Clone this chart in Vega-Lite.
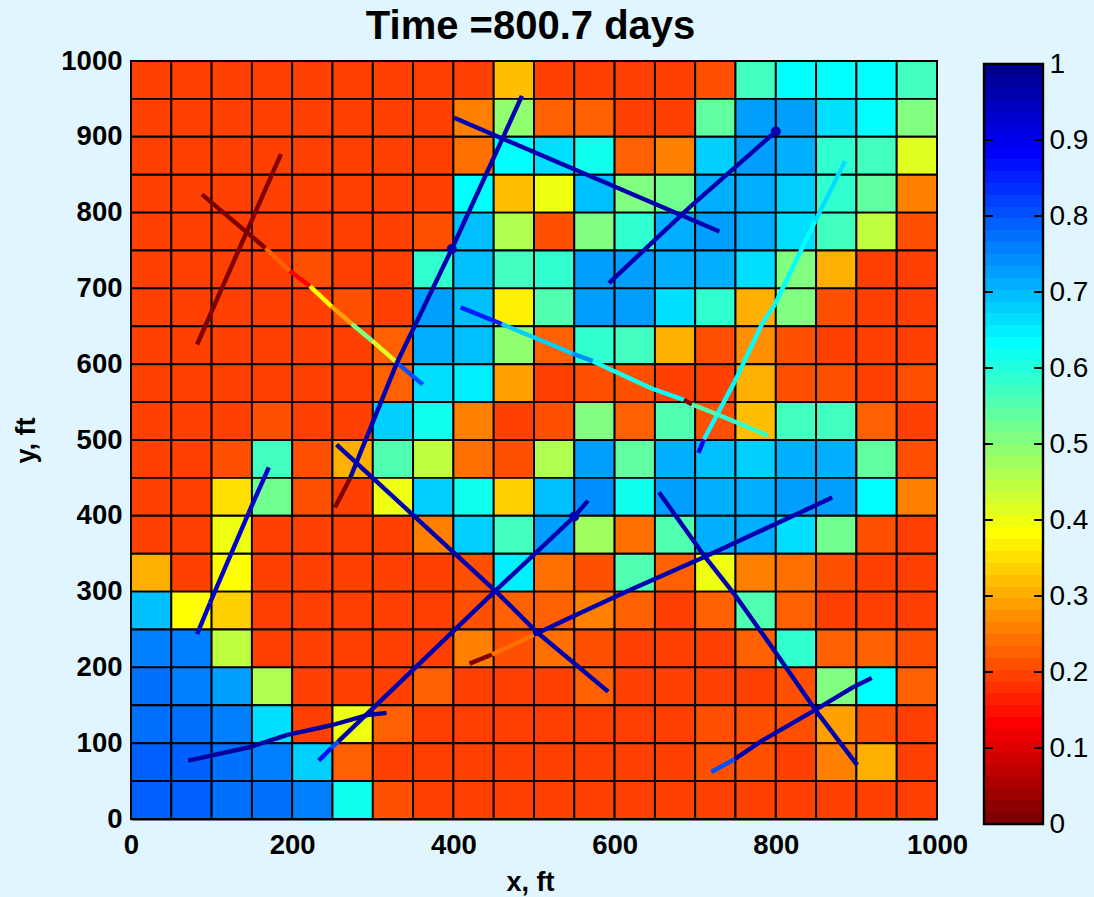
{"$schema":"https://vega.github.io/schema/vega-lite/v6.json","background":"#e0f5fd","padding":{"left":11,"top":7,"right":7,"bottom":2},
"config":{"font":"Liberation Sans","view":{"stroke":"black","strokeWidth":2},"concat":{"spacing":13}},
"title":{"text":"Time =800.7 days","font":"Liberation Sans","fontWeight":"bold","fontSize":40,"color":"black","anchor":"start","dx":354,"offset":-1},
"hconcat":[
{"width":806,"height":758,
"layer":[
{"data":{"name":"cells"},"mark":{"type":"rect","stroke":"black","strokeWidth":1.9},
"encoding":{"x":{"field":"x","type":"quantitative","scale":{"domain":[0,1000],"nice":false},"axis":{"values":[0,200,400,600,800,1000],"format":"d","grid":false,"ticks":false,"title":"x, ft","titleFontSize":27,"titleFontWeight":"bold","titleColor":"black","titleX":399,"labelFontSize":27.5,"labelFontWeight":"bold","labelColor":"black","labelPadding":12,"titlePadding":11,"domainColor":"black","domainWidth":2,"labelFlush":false,"labelOverlap":false}},"x2":{"field":"x2"},
"y":{"field":"y","type":"quantitative","scale":{"domain":[0,1000],"nice":false},"axis":{"values":[0,100,200,300,400,500,600,700,800,900,1000],"format":"d","grid":false,"ticks":false,"title":"y, ft","titleFontSize":27,"titleFontWeight":"bold","titleColor":"black","labelFontSize":27.5,"labelFontWeight":"bold","labelColor":"black","labelPadding":9,"titlePadding":20,"domainColor":"black","domainWidth":2,"labelFlush":false,"labelOverlap":false}},"y2":{"field":"y2"},
"color":{"field":"v","type":"quantitative","legend":null,"scale":{"type":"quantize","domain":[0,1],"range":["#800000","#8f0000","#9f0000","#af0000","#bf0000","#cf0000","#df0000","#ef0000","#ff0000","#ff1000","#ff2000","#ff3000","#ff4000","#ff5000","#ff6000","#ff7000","#ff8000","#ff8f00","#ff9f00","#ffaf00","#ffbf00","#ffcf00","#ffdf00","#ffef00","#ffff00","#efff10","#dfff20","#cfff30","#bfff40","#afff50","#9fff60","#8fff70","#80ff80","#70ff8f","#60ff9f","#50ffaf","#40ffbf","#30ffcf","#20ffdf","#10ffef","#00ffff","#00efff","#00dfff","#00cfff","#00bfff","#00afff","#009fff","#008fff","#0080ff","#0070ff","#0060ff","#0050ff","#0040ff","#0030ff","#0020ff","#0010ff","#0000ff","#0000ef","#0000df","#0000cf","#0000bf","#0000af","#00009f","#00008f"]}}}},
{"data":{"name":"frac"},"mark":{"type":"rule","strokeWidth":4.4,"strokeCap":"butt"},
"encoding":{"x":{"field":"x","type":"quantitative"},"y":{"field":"y","type":"quantitative"},"x2":{"field":"x2"},"y2":{"field":"y2"},"color":{"field":"v","type":"quantitative","legend":null,"scale":{"type":"quantize","domain":[0,1],"range":["#800000","#8f0000","#9f0000","#af0000","#bf0000","#cf0000","#df0000","#ef0000","#ff0000","#ff1000","#ff2000","#ff3000","#ff4000","#ff5000","#ff6000","#ff7000","#ff8000","#ff8f00","#ff9f00","#ffaf00","#ffbf00","#ffcf00","#ffdf00","#ffef00","#ffff00","#efff10","#dfff20","#cfff30","#bfff40","#afff50","#9fff60","#8fff70","#80ff80","#70ff8f","#60ff9f","#50ffaf","#40ffbf","#30ffcf","#20ffdf","#10ffef","#00ffff","#00efff","#00dfff","#00cfff","#00bfff","#00afff","#009fff","#008fff","#0080ff","#0070ff","#0060ff","#0050ff","#0040ff","#0030ff","#0020ff","#0010ff","#0000ff","#0000ef","#0000df","#0000cf","#0000bf","#0000af","#00009f","#00008f"]}}}},
{"data":{"name":"nodes"},"mark":{"type":"point","filled":true,"opacity":1,"size":100},
"encoding":{"x":{"field":"x","type":"quantitative"},"y":{"field":"y","type":"quantitative"},"color":{"field":"v","type":"quantitative","legend":null,"scale":{"type":"quantize","domain":[0,1],"range":["#800000","#8f0000","#9f0000","#af0000","#bf0000","#cf0000","#df0000","#ef0000","#ff0000","#ff1000","#ff2000","#ff3000","#ff4000","#ff5000","#ff6000","#ff7000","#ff8000","#ff8f00","#ff9f00","#ffaf00","#ffbf00","#ffcf00","#ffdf00","#ffef00","#ffff00","#efff10","#dfff20","#cfff30","#bfff40","#afff50","#9fff60","#8fff70","#80ff80","#70ff8f","#60ff9f","#50ffaf","#40ffbf","#30ffcf","#20ffdf","#10ffef","#00ffff","#00efff","#00dfff","#00cfff","#00bfff","#00afff","#009fff","#008fff","#0080ff","#0070ff","#0060ff","#0050ff","#0040ff","#0030ff","#0020ff","#0010ff","#0000ff","#0000ef","#0000df","#0000cf","#0000bf","#0000af","#00009f","#00008f"]}}}}
]},
{"width":59,"height":763,"view":{"stroke":null},
"layer":[{"data":{"name":"bar"},"mark":{"type":"rect"},
"encoding":{"x":{"datum":0,"type":"quantitative","scale":{"domain":[0,1],"nice":false},"axis":null},"x2":{"datum":1},"y":{"field":"lo","type":"quantitative","scale":{"domain":[0,1.00395],"nice":false,"round":true},"axis":{"orient":"right","values":[0,0.1,0.2,0.3,0.4,0.5,0.6,0.7,0.8,0.9,1],"format":"~g","grid":false,"ticks":false,"domain":false,"title":null,"labelFontSize":28,"labelColor":"black","labelPadding":6,"labelFlush":false,"labelOverlap":false}},"y2":{"field":"hi"},
"color":{"field":"lo","type":"quantitative","legend":null,"scale":{"type":"quantize","domain":[0,1],"range":["#800000","#8f0000","#9f0000","#af0000","#bf0000","#cf0000","#df0000","#ef0000","#ff0000","#ff1000","#ff2000","#ff3000","#ff4000","#ff5000","#ff6000","#ff7000","#ff8000","#ff8f00","#ff9f00","#ffaf00","#ffbf00","#ffcf00","#ffdf00","#ffef00","#ffff00","#efff10","#dfff20","#cfff30","#bfff40","#afff50","#9fff60","#8fff70","#80ff80","#70ff8f","#60ff9f","#50ffaf","#40ffbf","#30ffcf","#20ffdf","#10ffef","#00ffff","#00efff","#00dfff","#00cfff","#00bfff","#00afff","#009fff","#008fff","#0080ff","#0070ff","#0060ff","#0050ff","#0040ff","#0030ff","#0020ff","#0010ff","#0000ff","#0000ef","#0000df","#0000cf","#0000bf","#0000af","#00009f","#00008f"]}}}},
{"data":{"name":"barticks"},"mark":{"type":"rule","color":"black","strokeWidth":2},
"encoding":{"x":{"field":"a","type":"quantitative"},"x2":{"field":"b"},"y":{"field":"t","type":"quantitative"}}},
{"data":{"name":"barframe"},"mark":{"type":"rect","fillOpacity":0,"stroke":"black","strokeWidth":2.4},
"encoding":{"x":{"field":"a","type":"quantitative"},"x2":{"field":"b"},"y":{"field":"t","type":"quantitative"},"y2":{"field":"t2"}}}
]}
],
"datasets":{
"barframe":[{"a":0,"b":1,"t":0,"t2":1}],
"barticks":[{"t":0.1,"a":0,"b":0.15},{"t":0.1,"a":0.85,"b":1},{"t":0.2,"a":0,"b":0.15},{"t":0.2,"a":0.85,"b":1},{"t":0.3,"a":0,"b":0.15},{"t":0.3,"a":0.85,"b":1},{"t":0.4,"a":0,"b":0.15},{"t":0.4,"a":0.85,"b":1},{"t":0.5,"a":0,"b":0.15},{"t":0.5,"a":0.85,"b":1},{"t":0.6,"a":0,"b":0.15},{"t":0.6,"a":0.85,"b":1},{"t":0.7,"a":0,"b":0.15},{"t":0.7,"a":0.85,"b":1},{"t":0.8,"a":0,"b":0.15},{"t":0.8,"a":0.85,"b":1},{"t":0.9,"a":0,"b":0.15},{"t":0.9,"a":0.85,"b":1}],
"bar":[{"lo":0,"hi":0.015625},{"lo":0.015625,"hi":0.03125},{"lo":0.03125,"hi":0.046875},{"lo":0.046875,"hi":0.0625},{"lo":0.0625,"hi":0.078125},{"lo":0.078125,"hi":0.09375},{"lo":0.09375,"hi":0.109375},{"lo":0.109375,"hi":0.125},{"lo":0.125,"hi":0.140625},{"lo":0.140625,"hi":0.15625},{"lo":0.15625,"hi":0.171875},{"lo":0.171875,"hi":0.1875},{"lo":0.1875,"hi":0.203125},{"lo":0.203125,"hi":0.21875},{"lo":0.21875,"hi":0.234375},{"lo":0.234375,"hi":0.25},{"lo":0.25,"hi":0.265625},{"lo":0.265625,"hi":0.28125},{"lo":0.28125,"hi":0.296875},{"lo":0.296875,"hi":0.3125},{"lo":0.3125,"hi":0.328125},{"lo":0.328125,"hi":0.34375},{"lo":0.34375,"hi":0.359375},{"lo":0.359375,"hi":0.375},{"lo":0.375,"hi":0.390625},{"lo":0.390625,"hi":0.40625},{"lo":0.40625,"hi":0.421875},{"lo":0.421875,"hi":0.4375},{"lo":0.4375,"hi":0.453125},{"lo":0.453125,"hi":0.46875},{"lo":0.46875,"hi":0.484375},{"lo":0.484375,"hi":0.5},{"lo":0.5,"hi":0.515625},{"lo":0.515625,"hi":0.53125},{"lo":0.53125,"hi":0.546875},{"lo":0.546875,"hi":0.5625},{"lo":0.5625,"hi":0.578125},{"lo":0.578125,"hi":0.59375},{"lo":0.59375,"hi":0.609375},{"lo":0.609375,"hi":0.625},{"lo":0.625,"hi":0.640625},{"lo":0.640625,"hi":0.65625},{"lo":0.65625,"hi":0.671875},{"lo":0.671875,"hi":0.6875},{"lo":0.6875,"hi":0.703125},{"lo":0.703125,"hi":0.71875},{"lo":0.71875,"hi":0.734375},{"lo":0.734375,"hi":0.75},{"lo":0.75,"hi":0.765625},{"lo":0.765625,"hi":0.78125},{"lo":0.78125,"hi":0.796875},{"lo":0.796875,"hi":0.8125},{"lo":0.8125,"hi":0.828125},{"lo":0.828125,"hi":0.84375},{"lo":0.84375,"hi":0.859375},{"lo":0.859375,"hi":0.875},{"lo":0.875,"hi":0.890625},{"lo":0.890625,"hi":0.90625},{"lo":0.90625,"hi":0.921875},{"lo":0.921875,"hi":0.9375},{"lo":0.9375,"hi":0.953125},{"lo":0.953125,"hi":0.96875},{"lo":0.96875,"hi":0.984375},{"lo":0.984375,"hi":1}],
"nodes":[{"x":398,"y":752,"v":0.96},{"x":800,"y":907,"v":0.96},{"x":550,"y":399,"v":0.96}],
"frac":[
{"x":82,"y":626,"x2":186,"y2":877,"v":0.01},
{"x":88,"y":824,"x2":167,"y2":753,"v":0.01},
{"x":167,"y":753,"x2":197,"y2":723,"v":0.225},
{"x":197,"y":723,"x2":222,"y2":703,"v":0.13},
{"x":222,"y":703,"x2":249,"y2":676,"v":0.38},
{"x":249,"y":676,"x2":274,"y2":653,"v":0.29},
{"x":274,"y":653,"x2":299,"y2":631,"v":0.5},
{"x":299,"y":631,"x2":330,"y2":602,"v":0.41},
{"x":330,"y":602,"x2":362,"y2":573,"v":0.8},
{"x":253,"y":411,"x2":272,"y2":450,"v":0.01},
{"x":272,"y":450,"x2":330,"y2":602,"v":0.96},
{"x":330,"y":602,"x2":398,"y2":752,"v":0.96},
{"x":398,"y":752,"x2":449,"y2":870,"v":0.96},
{"x":449,"y":870,"x2":485,"y2":954,"v":0.96},
{"x":401,"y":925,"x2":730,"y2":775,"v":0.96},
{"x":593,"y":707,"x2":694,"y2":808,"v":0.96},
{"x":694,"y":808,"x2":800,"y2":907,"v":0.96},
{"x":704,"y":483,"x2":711,"y2":501,"v":0.9},
{"x":711,"y":501,"x2":749,"y2":577,"v":0.63},
{"x":749,"y":577,"x2":783,"y2":653,"v":0.63},
{"x":783,"y":653,"x2":799,"y2":679,"v":0.63},
{"x":799,"y":679,"x2":849,"y2":789,"v":0.63},
{"x":849,"y":789,"x2":886,"y2":868,"v":0.66},
{"x":409,"y":675,"x2":460,"y2":653,"v":0.85},
{"x":460,"y":653,"x2":548,"y2":614,"v":0.68},
{"x":548,"y":614,"x2":573,"y2":604,"v":0.74},
{"x":573,"y":604,"x2":646,"y2":568,"v":0.62},
{"x":646,"y":568,"x2":686,"y2":553,"v":0.64},
{"x":686,"y":553,"x2":696,"y2":547,"v":0.01},
{"x":696,"y":547,"x2":727,"y2":534,"v":0.56},
{"x":727,"y":534,"x2":790,"y2":506,"v":0.59},
{"x":255,"y":494,"x2":452,"y2":301,"v":0.96},
{"x":452,"y":301,"x2":503,"y2":247,"v":0.96},
{"x":503,"y":247,"x2":592,"y2":168,"v":0.96},
{"x":233,"y":77,"x2":249,"y2":94,"v":0.87},
{"x":249,"y":94,"x2":257,"y2":102,"v":0.8},
{"x":257,"y":102,"x2":452,"y2":301,"v":0.96},
{"x":452,"y":301,"x2":550,"y2":399,"v":0.96},
{"x":550,"y":399,"x2":567,"y2":420,"v":0.96},
{"x":71,"y":77,"x2":148,"y2":95,"v":0.97},
{"x":148,"y":95,"x2":194,"y2":111,"v":0.97},
{"x":194,"y":111,"x2":250,"y2":124,"v":0.97},
{"x":250,"y":124,"x2":293,"y2":137,"v":0.97},
{"x":293,"y":137,"x2":317,"y2":140,"v":0.97},
{"x":420,"y":205,"x2":448,"y2":217,"v":0.01},
{"x":448,"y":217,"x2":500,"y2":243,"v":0.235},
{"x":500,"y":243,"x2":548,"y2":267,"v":0.96},
{"x":548,"y":267,"x2":619,"y2":302,"v":0.96},
{"x":619,"y":302,"x2":712,"y2":346,"v":0.96},
{"x":712,"y":346,"x2":870,"y2":424,"v":0.96},
{"x":655,"y":431,"x2":712,"y2":346,"v":0.96},
{"x":712,"y":346,"x2":749,"y2":296,"v":0.96},
{"x":749,"y":296,"x2":799,"y2":221,"v":0.96},
{"x":799,"y":221,"x2":849,"y2":144,"v":0.96},
{"x":849,"y":144,"x2":901,"y2":71,"v":0.96},
{"x":720,"y":62,"x2":749,"y2":79,"v":0.8},
{"x":749,"y":79,"x2":784,"y2":104,"v":0.96},
{"x":784,"y":104,"x2":849,"y2":144,"v":0.96},
{"x":849,"y":144,"x2":896,"y2":174,"v":0.96},
{"x":896,"y":174,"x2":919,"y2":186,"v":0.96},
{"x":82,"y":244,"x2":98,"y2":285,"v":0.93},
{"x":98,"y":285,"x2":146,"y2":404,"v":0.93},
{"x":146,"y":404,"x2":171,"y2":464,"v":0.93}
],
"cells":[
{"x":0,"x2":50,"y":950,"y2":1000,"v":0.19},{"x":50,"x2":100,"y":950,"y2":1000,"v":0.19},{"x":100,"x2":150,"y":950,"y2":1000,"v":0.19},{"x":150,"x2":200,"y":950,"y2":1000,"v":0.19},{"x":200,"x2":250,"y":950,"y2":1000,"v":0.19},{"x":250,"x2":300,"y":950,"y2":1000,"v":0.19},{"x":300,"x2":350,"y":950,"y2":1000,"v":0.19},{"x":350,"x2":400,"y":950,"y2":1000,"v":0.19},{"x":400,"x2":450,"y":950,"y2":1000,"v":0.19},{"x":450,"x2":500,"y":950,"y2":1000,"v":0.32},{"x":500,"x2":550,"y":950,"y2":1000,"v":0.2},{"x":550,"x2":600,"y":950,"y2":1000,"v":0.2},{"x":600,"x2":650,"y":950,"y2":1000,"v":0.2},{"x":650,"x2":700,"y":950,"y2":1000,"v":0.19},{"x":700,"x2":750,"y":950,"y2":1000,"v":0.21},{"x":750,"x2":800,"y":950,"y2":1000,"v":0.57},{"x":800,"x2":850,"y":950,"y2":1000,"v":0.64},{"x":850,"x2":900,"y":950,"y2":1000,"v":0.64},{"x":900,"x2":950,"y":950,"y2":1000,"v":0.64},{"x":950,"x2":1000,"y":950,"y2":1000,"v":0.57},
{"x":0,"x2":50,"y":900,"y2":950,"v":0.19},{"x":50,"x2":100,"y":900,"y2":950,"v":0.19},{"x":100,"x2":150,"y":900,"y2":950,"v":0.19},{"x":150,"x2":200,"y":900,"y2":950,"v":0.19},{"x":200,"x2":250,"y":900,"y2":950,"v":0.19},{"x":250,"x2":300,"y":900,"y2":950,"v":0.19},{"x":300,"x2":350,"y":900,"y2":950,"v":0.19},{"x":350,"x2":400,"y":900,"y2":950,"v":0.19},{"x":400,"x2":450,"y":900,"y2":950,"v":0.26},{"x":450,"x2":500,"y":900,"y2":950,"v":0.49},{"x":500,"x2":550,"y":900,"y2":950,"v":0.225},{"x":550,"x2":600,"y":900,"y2":950,"v":0.225},{"x":600,"x2":650,"y":900,"y2":950,"v":0.2},{"x":650,"x2":700,"y":900,"y2":950,"v":0.19},{"x":700,"x2":750,"y":900,"y2":950,"v":0.54},{"x":750,"x2":800,"y":900,"y2":950,"v":0.725},{"x":800,"x2":850,"y":900,"y2":950,"v":0.725},{"x":850,"x2":900,"y":900,"y2":950,"v":0.665},{"x":900,"x2":950,"y":900,"y2":950,"v":0.63},{"x":950,"x2":1000,"y":900,"y2":950,"v":0.515},
{"x":0,"x2":50,"y":850,"y2":900,"v":0.19},{"x":50,"x2":100,"y":850,"y2":900,"v":0.19},{"x":100,"x2":150,"y":850,"y2":900,"v":0.19},{"x":150,"x2":200,"y":850,"y2":900,"v":0.19},{"x":200,"x2":250,"y":850,"y2":900,"v":0.19},{"x":250,"x2":300,"y":850,"y2":900,"v":0.19},{"x":300,"x2":350,"y":850,"y2":900,"v":0.19},{"x":350,"x2":400,"y":850,"y2":900,"v":0.19},{"x":400,"x2":450,"y":850,"y2":900,"v":0.24},{"x":450,"x2":500,"y":850,"y2":900,"v":0.63},{"x":500,"x2":550,"y":850,"y2":900,"v":0.665},{"x":550,"x2":600,"y":850,"y2":900,"v":0.61},{"x":600,"x2":650,"y":850,"y2":900,"v":0.225},{"x":650,"x2":700,"y":850,"y2":900,"v":0.26},{"x":700,"x2":750,"y":850,"y2":900,"v":0.675},{"x":750,"x2":800,"y":850,"y2":900,"v":0.725},{"x":800,"x2":850,"y":850,"y2":900,"v":0.715},{"x":850,"x2":900,"y":850,"y2":900,"v":0.59},{"x":900,"x2":950,"y":850,"y2":900,"v":0.575},{"x":950,"x2":1000,"y":850,"y2":900,"v":0.42},
{"x":0,"x2":50,"y":800,"y2":850,"v":0.19},{"x":50,"x2":100,"y":800,"y2":850,"v":0.19},{"x":100,"x2":150,"y":800,"y2":850,"v":0.19},{"x":150,"x2":200,"y":800,"y2":850,"v":0.19},{"x":200,"x2":250,"y":800,"y2":850,"v":0.19},{"x":250,"x2":300,"y":800,"y2":850,"v":0.19},{"x":300,"x2":350,"y":800,"y2":850,"v":0.19},{"x":350,"x2":400,"y":800,"y2":850,"v":0.19},{"x":400,"x2":450,"y":800,"y2":850,"v":0.63},{"x":450,"x2":500,"y":800,"y2":850,"v":0.32},{"x":500,"x2":550,"y":800,"y2":850,"v":0.405},{"x":550,"x2":600,"y":800,"y2":850,"v":0.7},{"x":600,"x2":650,"y":800,"y2":850,"v":0.515},{"x":650,"x2":700,"y":800,"y2":850,"v":0.525},{"x":700,"x2":750,"y":800,"y2":850,"v":0.715},{"x":750,"x2":800,"y":800,"y2":850,"v":0.71},{"x":800,"x2":850,"y":800,"y2":850,"v":0.68},{"x":850,"x2":900,"y":800,"y2":850,"v":0.59},{"x":900,"x2":950,"y":800,"y2":850,"v":0.54},{"x":950,"x2":1000,"y":800,"y2":850,"v":0.25},
{"x":0,"x2":50,"y":750,"y2":800,"v":0.19},{"x":50,"x2":100,"y":750,"y2":800,"v":0.19},{"x":100,"x2":150,"y":750,"y2":800,"v":0.19},{"x":150,"x2":200,"y":750,"y2":800,"v":0.19},{"x":200,"x2":250,"y":750,"y2":800,"v":0.19},{"x":250,"x2":300,"y":750,"y2":800,"v":0.19},{"x":300,"x2":350,"y":750,"y2":800,"v":0.19},{"x":350,"x2":400,"y":750,"y2":800,"v":0.205},{"x":400,"x2":450,"y":750,"y2":800,"v":0.7},{"x":450,"x2":500,"y":750,"y2":800,"v":0.46},{"x":500,"x2":550,"y":750,"y2":800,"v":0.21},{"x":550,"x2":600,"y":750,"y2":800,"v":0.5},{"x":600,"x2":650,"y":750,"y2":800,"v":0.59},{"x":650,"x2":700,"y":750,"y2":800,"v":0.71},{"x":700,"x2":750,"y":750,"y2":800,"v":0.725},{"x":750,"x2":800,"y":750,"y2":800,"v":0.71},{"x":800,"x2":850,"y":750,"y2":800,"v":0.665},{"x":850,"x2":900,"y":750,"y2":800,"v":0.575},{"x":900,"x2":950,"y":750,"y2":800,"v":0.44},{"x":950,"x2":1000,"y":750,"y2":800,"v":0.21},
{"x":0,"x2":50,"y":700,"y2":750,"v":0.19},{"x":50,"x2":100,"y":700,"y2":750,"v":0.19},{"x":100,"x2":150,"y":700,"y2":750,"v":0.19},{"x":150,"x2":200,"y":700,"y2":750,"v":0.19},{"x":200,"x2":250,"y":700,"y2":750,"v":0.21},{"x":250,"x2":300,"y":700,"y2":750,"v":0.19},{"x":300,"x2":350,"y":700,"y2":750,"v":0.19},{"x":350,"x2":400,"y":700,"y2":750,"v":0.59},{"x":400,"x2":450,"y":700,"y2":750,"v":0.695},{"x":450,"x2":500,"y":700,"y2":750,"v":0.575},{"x":500,"x2":550,"y":700,"y2":750,"v":0.59},{"x":550,"x2":600,"y":700,"y2":750,"v":0.725},{"x":600,"x2":650,"y":700,"y2":750,"v":0.725},{"x":650,"x2":700,"y":700,"y2":750,"v":0.715},{"x":700,"x2":750,"y":700,"y2":750,"v":0.715},{"x":750,"x2":800,"y":700,"y2":750,"v":0.66},{"x":800,"x2":850,"y":700,"y2":750,"v":0.515},{"x":850,"x2":900,"y":700,"y2":750,"v":0.31},{"x":900,"x2":950,"y":700,"y2":750,"v":0.19},{"x":950,"x2":1000,"y":700,"y2":750,"v":0.19},
{"x":0,"x2":50,"y":650,"y2":700,"v":0.19},{"x":50,"x2":100,"y":650,"y2":700,"v":0.19},{"x":100,"x2":150,"y":650,"y2":700,"v":0.19},{"x":150,"x2":200,"y":650,"y2":700,"v":0.19},{"x":200,"x2":250,"y":650,"y2":700,"v":0.19},{"x":250,"x2":300,"y":650,"y2":700,"v":0.21},{"x":300,"x2":350,"y":650,"y2":700,"v":0.19},{"x":350,"x2":400,"y":650,"y2":700,"v":0.725},{"x":400,"x2":450,"y":650,"y2":700,"v":0.7},{"x":450,"x2":500,"y":650,"y2":700,"v":0.36},{"x":500,"x2":550,"y":650,"y2":700,"v":0.56},{"x":550,"x2":600,"y":650,"y2":700,"v":0.72},{"x":600,"x2":650,"y":650,"y2":700,"v":0.72},{"x":650,"x2":700,"y":650,"y2":700,"v":0.66},{"x":700,"x2":750,"y":650,"y2":700,"v":0.59},{"x":750,"x2":800,"y":650,"y2":700,"v":0.3},{"x":800,"x2":850,"y":650,"y2":700,"v":0.5},{"x":850,"x2":900,"y":650,"y2":700,"v":0.205},{"x":900,"x2":950,"y":650,"y2":700,"v":0.19},{"x":950,"x2":1000,"y":650,"y2":700,"v":0.19},
{"x":0,"x2":50,"y":600,"y2":650,"v":0.19},{"x":50,"x2":100,"y":600,"y2":650,"v":0.19},{"x":100,"x2":150,"y":600,"y2":650,"v":0.19},{"x":150,"x2":200,"y":600,"y2":650,"v":0.19},{"x":200,"x2":250,"y":600,"y2":650,"v":0.19},{"x":250,"x2":300,"y":600,"y2":650,"v":0.19},{"x":300,"x2":350,"y":600,"y2":650,"v":0.225},{"x":350,"x2":400,"y":600,"y2":650,"v":0.715},{"x":400,"x2":450,"y":600,"y2":650,"v":0.69},{"x":450,"x2":500,"y":600,"y2":650,"v":0.49},{"x":500,"x2":550,"y":600,"y2":650,"v":0.225},{"x":550,"x2":600,"y":600,"y2":650,"v":0.59},{"x":600,"x2":650,"y":600,"y2":650,"v":0.575},{"x":650,"x2":700,"y":600,"y2":650,"v":0.3},{"x":700,"x2":750,"y":600,"y2":650,"v":0.21},{"x":750,"x2":800,"y":600,"y2":650,"v":0.28},{"x":800,"x2":850,"y":600,"y2":650,"v":0.21},{"x":850,"x2":900,"y":600,"y2":650,"v":0.19},{"x":900,"x2":950,"y":600,"y2":650,"v":0.19},{"x":950,"x2":1000,"y":600,"y2":650,"v":0.19},
{"x":0,"x2":50,"y":550,"y2":600,"v":0.19},{"x":50,"x2":100,"y":550,"y2":600,"v":0.19},{"x":100,"x2":150,"y":550,"y2":600,"v":0.19},{"x":150,"x2":200,"y":550,"y2":600,"v":0.19},{"x":200,"x2":250,"y":550,"y2":600,"v":0.19},{"x":250,"x2":300,"y":550,"y2":600,"v":0.19},{"x":300,"x2":350,"y":550,"y2":600,"v":0.225},{"x":350,"x2":400,"y":550,"y2":600,"v":0.665},{"x":400,"x2":450,"y":550,"y2":600,"v":0.645},{"x":450,"x2":500,"y":550,"y2":600,"v":0.29},{"x":500,"x2":550,"y":550,"y2":600,"v":0.19},{"x":550,"x2":600,"y":550,"y2":600,"v":0.21},{"x":600,"x2":650,"y":550,"y2":600,"v":0.21},{"x":650,"x2":700,"y":550,"y2":600,"v":0.19},{"x":700,"x2":750,"y":550,"y2":600,"v":0.19},{"x":750,"x2":800,"y":550,"y2":600,"v":0.3},{"x":800,"x2":850,"y":550,"y2":600,"v":0.21},{"x":850,"x2":900,"y":550,"y2":600,"v":0.21},{"x":900,"x2":950,"y":550,"y2":600,"v":0.19},{"x":950,"x2":1000,"y":550,"y2":600,"v":0.205},
{"x":0,"x2":50,"y":500,"y2":550,"v":0.19},{"x":50,"x2":100,"y":500,"y2":550,"v":0.19},{"x":100,"x2":150,"y":500,"y2":550,"v":0.19},{"x":150,"x2":200,"y":500,"y2":550,"v":0.21},{"x":200,"x2":250,"y":500,"y2":550,"v":0.19},{"x":250,"x2":300,"y":500,"y2":550,"v":0.19},{"x":300,"x2":350,"y":500,"y2":550,"v":0.675},{"x":350,"x2":400,"y":500,"y2":550,"v":0.61},{"x":400,"x2":450,"y":500,"y2":550,"v":0.26},{"x":450,"x2":500,"y":500,"y2":550,"v":0.19},{"x":500,"x2":550,"y":500,"y2":550,"v":0.21},{"x":550,"x2":600,"y":500,"y2":550,"v":0.5},{"x":600,"x2":650,"y":500,"y2":550,"v":0.225},{"x":650,"x2":700,"y":500,"y2":550,"v":0.555},{"x":700,"x2":750,"y":500,"y2":550,"v":0.21},{"x":750,"x2":800,"y":500,"y2":550,"v":0.315},{"x":800,"x2":850,"y":500,"y2":550,"v":0.575},{"x":850,"x2":900,"y":500,"y2":550,"v":0.575},{"x":900,"x2":950,"y":500,"y2":550,"v":0.225},{"x":950,"x2":1000,"y":500,"y2":550,"v":0.19},
{"x":0,"x2":50,"y":450,"y2":500,"v":0.19},{"x":50,"x2":100,"y":450,"y2":500,"v":0.19},{"x":100,"x2":150,"y":450,"y2":500,"v":0.205},{"x":150,"x2":200,"y":450,"y2":500,"v":0.575},{"x":200,"x2":250,"y":450,"y2":500,"v":0.21},{"x":250,"x2":300,"y":450,"y2":500,"v":0.31},{"x":300,"x2":350,"y":450,"y2":500,"v":0.555},{"x":350,"x2":400,"y":450,"y2":500,"v":0.45},{"x":400,"x2":450,"y":450,"y2":500,"v":0.235},{"x":450,"x2":500,"y":450,"y2":500,"v":0.205},{"x":500,"x2":550,"y":450,"y2":500,"v":0.46},{"x":550,"x2":600,"y":450,"y2":500,"v":0.72},{"x":600,"x2":650,"y":450,"y2":500,"v":0.54},{"x":650,"x2":700,"y":450,"y2":500,"v":0.715},{"x":700,"x2":750,"y":450,"y2":500,"v":0.695},{"x":750,"x2":800,"y":450,"y2":500,"v":0.675},{"x":800,"x2":850,"y":450,"y2":500,"v":0.715},{"x":850,"x2":900,"y":450,"y2":500,"v":0.715},{"x":900,"x2":950,"y":450,"y2":500,"v":0.54},{"x":950,"x2":1000,"y":450,"y2":500,"v":0.21},
{"x":0,"x2":50,"y":400,"y2":450,"v":0.19},{"x":50,"x2":100,"y":400,"y2":450,"v":0.19},{"x":100,"x2":150,"y":400,"y2":450,"v":0.355},{"x":150,"x2":200,"y":400,"y2":450,"v":0.525},{"x":200,"x2":250,"y":400,"y2":450,"v":0.205},{"x":250,"x2":300,"y":400,"y2":450,"v":0.19},{"x":300,"x2":350,"y":400,"y2":450,"v":0.405},{"x":350,"x2":400,"y":400,"y2":450,"v":0.675},{"x":400,"x2":450,"y":400,"y2":450,"v":0.61},{"x":450,"x2":500,"y":400,"y2":450,"v":0.34},{"x":500,"x2":550,"y":400,"y2":450,"v":0.7},{"x":550,"x2":600,"y":400,"y2":450,"v":0.74},{"x":600,"x2":650,"y":400,"y2":450,"v":0.61},{"x":650,"x2":700,"y":400,"y2":450,"v":0.725},{"x":700,"x2":750,"y":400,"y2":450,"v":0.715},{"x":750,"x2":800,"y":400,"y2":450,"v":0.715},{"x":800,"x2":850,"y":400,"y2":450,"v":0.725},{"x":850,"x2":900,"y":400,"y2":450,"v":0.725},{"x":900,"x2":950,"y":400,"y2":450,"v":0.63},{"x":950,"x2":1000,"y":400,"y2":450,"v":0.26},
{"x":0,"x2":50,"y":350,"y2":400,"v":0.19},{"x":50,"x2":100,"y":350,"y2":400,"v":0.19},{"x":100,"x2":150,"y":350,"y2":400,"v":0.405},{"x":150,"x2":200,"y":350,"y2":400,"v":0.19},{"x":200,"x2":250,"y":350,"y2":400,"v":0.19},{"x":250,"x2":300,"y":350,"y2":400,"v":0.19},{"x":300,"x2":350,"y":350,"y2":400,"v":0.19},{"x":350,"x2":400,"y":350,"y2":400,"v":0.26},{"x":400,"x2":450,"y":350,"y2":400,"v":0.675},{"x":450,"x2":500,"y":350,"y2":400,"v":0.575},{"x":500,"x2":550,"y":350,"y2":400,"v":0.725},{"x":550,"x2":600,"y":350,"y2":400,"v":0.48},{"x":600,"x2":650,"y":350,"y2":400,"v":0.235},{"x":650,"x2":700,"y":350,"y2":400,"v":0.555},{"x":700,"x2":750,"y":350,"y2":400,"v":0.715},{"x":750,"x2":800,"y":350,"y2":400,"v":0.715},{"x":800,"x2":850,"y":350,"y2":400,"v":0.66},{"x":850,"x2":900,"y":350,"y2":400,"v":0.525},{"x":900,"x2":950,"y":350,"y2":400,"v":0.21},{"x":950,"x2":1000,"y":350,"y2":400,"v":0.19},
{"x":0,"x2":50,"y":300,"y2":350,"v":0.31},{"x":50,"x2":100,"y":300,"y2":350,"v":0.19},{"x":100,"x2":150,"y":300,"y2":350,"v":0.375},{"x":150,"x2":200,"y":300,"y2":350,"v":0.19},{"x":200,"x2":250,"y":300,"y2":350,"v":0.19},{"x":250,"x2":300,"y":300,"y2":350,"v":0.19},{"x":300,"x2":350,"y":300,"y2":350,"v":0.19},{"x":350,"x2":400,"y":300,"y2":350,"v":0.19},{"x":400,"x2":450,"y":300,"y2":350,"v":0.21},{"x":450,"x2":500,"y":300,"y2":350,"v":0.645},{"x":500,"x2":550,"y":300,"y2":350,"v":0.235},{"x":550,"x2":600,"y":300,"y2":350,"v":0.205},{"x":600,"x2":650,"y":300,"y2":350,"v":0.555},{"x":650,"x2":700,"y":300,"y2":350,"v":0.225},{"x":700,"x2":750,"y":300,"y2":350,"v":0.405},{"x":750,"x2":800,"y":300,"y2":350,"v":0.25},{"x":800,"x2":850,"y":300,"y2":350,"v":0.235},{"x":850,"x2":900,"y":300,"y2":350,"v":0.205},{"x":900,"x2":950,"y":300,"y2":350,"v":0.19},{"x":950,"x2":1000,"y":300,"y2":350,"v":0.19},
{"x":0,"x2":50,"y":250,"y2":300,"v":0.69},{"x":50,"x2":100,"y":250,"y2":300,"v":0.39},{"x":100,"x2":150,"y":250,"y2":300,"v":0.335},{"x":150,"x2":200,"y":250,"y2":300,"v":0.19},{"x":200,"x2":250,"y":250,"y2":300,"v":0.19},{"x":250,"x2":300,"y":250,"y2":300,"v":0.19},{"x":300,"x2":350,"y":250,"y2":300,"v":0.19},{"x":350,"x2":400,"y":250,"y2":300,"v":0.19},{"x":400,"x2":450,"y":250,"y2":300,"v":0.205},{"x":450,"x2":500,"y":250,"y2":300,"v":0.22},{"x":500,"x2":550,"y":250,"y2":300,"v":0.22},{"x":550,"x2":600,"y":250,"y2":300,"v":0.25},{"x":600,"x2":650,"y":250,"y2":300,"v":0.225},{"x":650,"x2":700,"y":250,"y2":300,"v":0.19},{"x":700,"x2":750,"y":250,"y2":300,"v":0.22},{"x":750,"x2":800,"y":250,"y2":300,"v":0.555},{"x":800,"x2":850,"y":250,"y2":300,"v":0.22},{"x":850,"x2":900,"y":250,"y2":300,"v":0.19},{"x":900,"x2":950,"y":250,"y2":300,"v":0.19},{"x":950,"x2":1000,"y":250,"y2":300,"v":0.19},
{"x":0,"x2":50,"y":200,"y2":250,"v":0.75},{"x":50,"x2":100,"y":200,"y2":250,"v":0.75},{"x":100,"x2":150,"y":200,"y2":250,"v":0.45},{"x":150,"x2":200,"y":200,"y2":250,"v":0.19},{"x":200,"x2":250,"y":200,"y2":250,"v":0.19},{"x":250,"x2":300,"y":200,"y2":250,"v":0.19},{"x":300,"x2":350,"y":200,"y2":250,"v":0.19},{"x":350,"x2":400,"y":200,"y2":250,"v":0.19},{"x":400,"x2":450,"y":200,"y2":250,"v":0.26},{"x":450,"x2":500,"y":200,"y2":250,"v":0.205},{"x":500,"x2":550,"y":200,"y2":250,"v":0.235},{"x":550,"x2":600,"y":200,"y2":250,"v":0.21},{"x":600,"x2":650,"y":200,"y2":250,"v":0.19},{"x":650,"x2":700,"y":200,"y2":250,"v":0.19},{"x":700,"x2":750,"y":200,"y2":250,"v":0.19},{"x":750,"x2":800,"y":200,"y2":250,"v":0.22},{"x":800,"x2":850,"y":200,"y2":250,"v":0.59},{"x":850,"x2":900,"y":200,"y2":250,"v":0.22},{"x":900,"x2":950,"y":200,"y2":250,"v":0.22},{"x":950,"x2":1000,"y":200,"y2":250,"v":0.205},
{"x":0,"x2":50,"y":150,"y2":200,"v":0.78},{"x":50,"x2":100,"y":150,"y2":200,"v":0.765},{"x":100,"x2":150,"y":150,"y2":200,"v":0.725},{"x":150,"x2":200,"y":150,"y2":200,"v":0.46},{"x":200,"x2":250,"y":150,"y2":200,"v":0.19},{"x":250,"x2":300,"y":150,"y2":200,"v":0.19},{"x":300,"x2":350,"y":150,"y2":200,"v":0.19},{"x":350,"x2":400,"y":150,"y2":200,"v":0.22},{"x":400,"x2":450,"y":150,"y2":200,"v":0.19},{"x":450,"x2":500,"y":150,"y2":200,"v":0.19},{"x":500,"x2":550,"y":150,"y2":200,"v":0.19},{"x":550,"x2":600,"y":150,"y2":200,"v":0.22},{"x":600,"x2":650,"y":150,"y2":200,"v":0.19},{"x":650,"x2":700,"y":150,"y2":200,"v":0.19},{"x":700,"x2":750,"y":150,"y2":200,"v":0.19},{"x":750,"x2":800,"y":150,"y2":200,"v":0.19},{"x":800,"x2":850,"y":150,"y2":200,"v":0.21},{"x":850,"x2":900,"y":150,"y2":200,"v":0.515},{"x":900,"x2":950,"y":150,"y2":200,"v":0.63},{"x":950,"x2":1000,"y":150,"y2":200,"v":0.22},
{"x":0,"x2":50,"y":100,"y2":150,"v":0.77},{"x":50,"x2":100,"y":100,"y2":150,"v":0.78},{"x":100,"x2":150,"y":100,"y2":150,"v":0.75},{"x":150,"x2":200,"y":100,"y2":150,"v":0.66},{"x":200,"x2":250,"y":100,"y2":150,"v":0.19},{"x":250,"x2":300,"y":100,"y2":150,"v":0.405},{"x":300,"x2":350,"y":100,"y2":150,"v":0.22},{"x":350,"x2":400,"y":100,"y2":150,"v":0.19},{"x":400,"x2":450,"y":100,"y2":150,"v":0.19},{"x":450,"x2":500,"y":100,"y2":150,"v":0.19},{"x":500,"x2":550,"y":100,"y2":150,"v":0.19},{"x":550,"x2":600,"y":100,"y2":150,"v":0.19},{"x":600,"x2":650,"y":100,"y2":150,"v":0.19},{"x":650,"x2":700,"y":100,"y2":150,"v":0.19},{"x":700,"x2":750,"y":100,"y2":150,"v":0.205},{"x":750,"x2":800,"y":100,"y2":150,"v":0.21},{"x":800,"x2":850,"y":100,"y2":150,"v":0.21},{"x":850,"x2":900,"y":100,"y2":150,"v":0.29},{"x":900,"x2":950,"y":100,"y2":150,"v":0.205},{"x":950,"x2":1000,"y":100,"y2":150,"v":0.19},
{"x":0,"x2":50,"y":50,"y2":100,"v":0.795},{"x":50,"x2":100,"y":50,"y2":100,"v":0.785},{"x":100,"x2":150,"y":50,"y2":100,"v":0.77},{"x":150,"x2":200,"y":50,"y2":100,"v":0.755},{"x":200,"x2":250,"y":50,"y2":100,"v":0.675},{"x":250,"x2":300,"y":50,"y2":100,"v":0.22},{"x":300,"x2":350,"y":50,"y2":100,"v":0.19},{"x":350,"x2":400,"y":50,"y2":100,"v":0.19},{"x":400,"x2":450,"y":50,"y2":100,"v":0.19},{"x":450,"x2":500,"y":50,"y2":100,"v":0.19},{"x":500,"x2":550,"y":50,"y2":100,"v":0.19},{"x":550,"x2":600,"y":50,"y2":100,"v":0.19},{"x":600,"x2":650,"y":50,"y2":100,"v":0.19},{"x":650,"x2":700,"y":50,"y2":100,"v":0.19},{"x":700,"x2":750,"y":50,"y2":100,"v":0.205},{"x":750,"x2":800,"y":50,"y2":100,"v":0.205},{"x":800,"x2":850,"y":50,"y2":100,"v":0.19},{"x":850,"x2":900,"y":50,"y2":100,"v":0.26},{"x":900,"x2":950,"y":50,"y2":100,"v":0.31},{"x":950,"x2":1000,"y":50,"y2":100,"v":0.19},
{"x":0,"x2":50,"y":0,"y2":50,"v":0.795},{"x":50,"x2":100,"y":0,"y2":50,"v":0.795},{"x":100,"x2":150,"y":0,"y2":50,"v":0.78},{"x":150,"x2":200,"y":0,"y2":50,"v":0.78},{"x":200,"x2":250,"y":0,"y2":50,"v":0.75},{"x":250,"x2":300,"y":0,"y2":50,"v":0.61},{"x":300,"x2":350,"y":0,"y2":50,"v":0.205},{"x":350,"x2":400,"y":0,"y2":50,"v":0.19},{"x":400,"x2":450,"y":0,"y2":50,"v":0.19},{"x":450,"x2":500,"y":0,"y2":50,"v":0.19},{"x":500,"x2":550,"y":0,"y2":50,"v":0.19},{"x":550,"x2":600,"y":0,"y2":50,"v":0.19},{"x":600,"x2":650,"y":0,"y2":50,"v":0.19},{"x":650,"x2":700,"y":0,"y2":50,"v":0.19},{"x":700,"x2":750,"y":0,"y2":50,"v":0.19},{"x":750,"x2":800,"y":0,"y2":50,"v":0.19},{"x":800,"x2":850,"y":0,"y2":50,"v":0.19},{"x":850,"x2":900,"y":0,"y2":50,"v":0.19},{"x":900,"x2":950,"y":0,"y2":50,"v":0.19},{"x":950,"x2":1000,"y":0,"y2":50,"v":0.19}
]}}
